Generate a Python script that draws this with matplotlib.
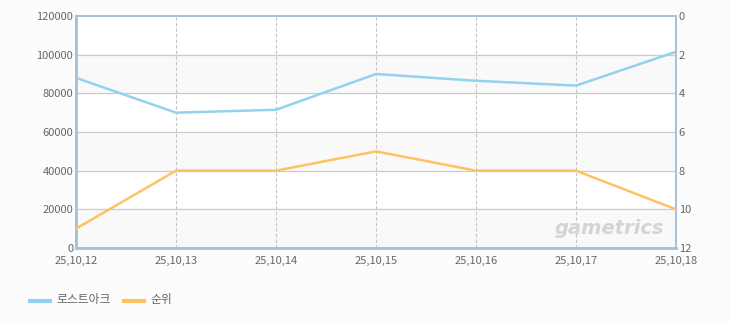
import matplotlib
matplotlib.use("Agg")
import matplotlib.pyplot as plt

plt.rcParams['font.family'] = ['Noto Sans CJK KR', 'DejaVu Sans']

# datos
dates = ["25,10,12", "25,10,13", "25,10,14", "25,10,15", "25,10,16", "25,10,17", "25,10,18"]
players = [88000, 70000, 71500, 90000, 86500, 84000, 101500]
ranks = [11, 8, 8, 7, 8, 8, 10]

BLUE = "#92d2f0"
ORANGE = "#ffc262"
FRAME = "#a9bfd6"
TICK = "#666666"

fig = plt.figure(figsize=(7.3, 3.25), dpi=100, facecolor="#fcfcfc")
ax = fig.add_axes([76 / 730, 1 - 248 / 325, 600 / 730, 232 / 325])
ax.set_facecolor("white")

x = list(range(len(dates)))

# bandas alternas de fondo
for lo in range(0, 120000, 40000):
    ax.axhspan(lo, lo + 20000, color="#f9f9f9", zorder=0)

ax.set_xlim(0, len(dates) - 1)
ax.set_ylim(0, 120000)
ax.set_yticks(range(0, 120001, 20000))
ax.set_xticks(x)
ax.set_xticklabels(dates)

for v in range(20000, 120000, 20000):
    ax.axhline(v, color="#cccccc", lw=0.9, zorder=1)
for xi in x[1:-1]:
    ax.axvline(xi, color="#c4c4c4", lw=0.8, ls=(0, (3, 2)), zorder=1)

ax.plot(x, players, color=BLUE, lw=1.8, zorder=3)

ax2 = ax.twinx()
ax2.set_ylim(12, 0)
ax2.set_yticks(range(0, 13, 2))
ax2.plot(x, ranks, color=ORANGE, lw=1.8, zorder=3)

for a in (ax, ax2):
    for s in a.spines.values():
        s.set_color(FRAME)
        s.set_linewidth(1.2)
    a.tick_params(length=0, labelsize=8, colors=TICK, pad=2)
ax.spines["left"].set_linewidth(2)
ax.spines["bottom"].set_linewidth(2)
ax.tick_params(axis="x", pad=6)

# marca de agua
ax.text(0.98, 0.085, "gametrics", transform=ax.transAxes, ha="right", va="center",
        fontsize=14, fontstyle="italic", fontweight="bold", color="#d4d4d4",
        family=["DejaVu Sans"], zorder=2)

# leyenda manual
fig.add_artist(plt.Line2D([30 / 730, 50 / 730], [1 - 301 / 325] * 2, color=BLUE, lw=3))
fig.text(56 / 730, 1 - 300 / 325, "로스트아크", fontsize=8.5, color=TICK, va="center")
fig.add_artist(plt.Line2D([124 / 730, 144 / 730], [1 - 301 / 325] * 2, color=ORANGE, lw=3))
fig.text(150 / 730, 1 - 300 / 325, "순위", fontsize=8.5, color=TICK, va="center")

fig.savefig("out.png", dpi=100, facecolor=fig.get_facecolor())
